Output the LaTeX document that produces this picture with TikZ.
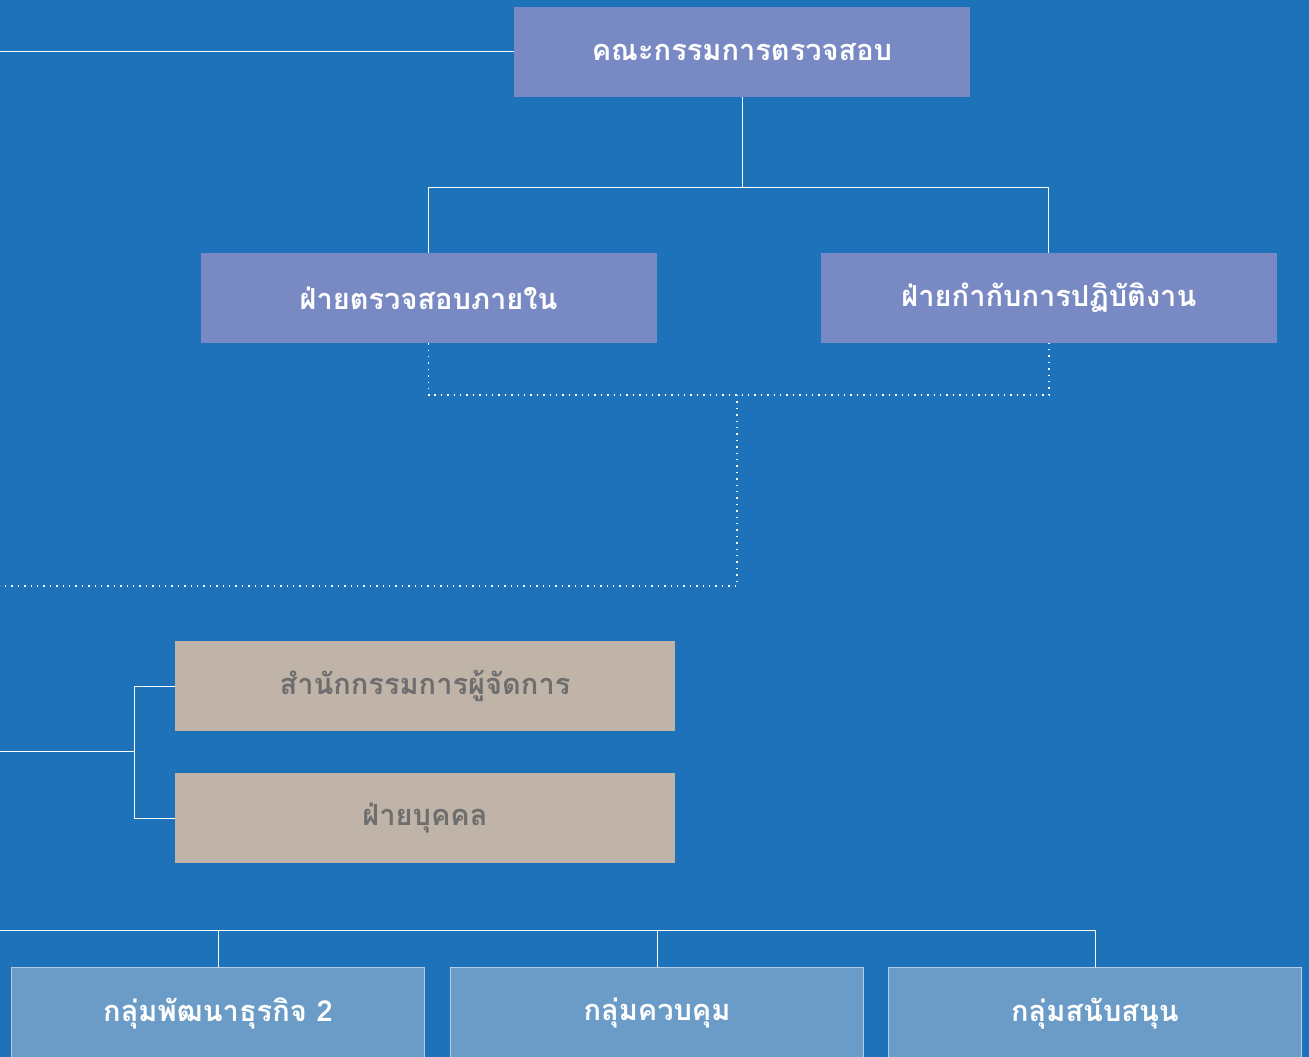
\documentclass[tikz,border=0pt]{standalone}
\usepackage{fontspec}
\newfontfamily\thaifont[Script=Thai]{Loma}
\usetikzlibrary{positioning}
\definecolor{bgblue}{HTML}{1E72B9}
\definecolor{unitfill}{HTML}{7889C4}
\definecolor{officefill}{HTML}{C0B4A8}
\definecolor{officetext}{HTML}{6E6E6E}
\definecolor{groupfill}{HTML}{6A9CC7}
\definecolor{groupline}{HTML}{B4CCE4}
\tikzset{
  unit/.style={
    rectangle,
    fill=unitfill,
    text=white,
    minimum width=456pt,
    minimum height=90pt,
    inner sep=0pt,
    font=\thaifont\bfseries\fontsize{29}{34}\selectfont,
    text centered},
  office/.style={
    unit,
    fill=officefill,
    text=officetext,
    minimum width=500pt},
  group/.style={
    unit,
    fill=groupfill,
    draw=groupline, line width=1pt,
    minimum width=413pt,
    minimum height=92pt},
  link/.style={draw=white, line width=1pt},
  duty/.style={draw=white, line width=1.4pt, dash pattern=on 1.4pt off 5pt},
}
\begin{document}
\begin{tikzpicture}[x=1pt, y=-1pt]
      \clip (0,0) rectangle (1309,1057);
      \fill[bgblue] (0,0) rectangle (1309,1057);

      \node[unit] (audit) at (742,52) {คณะกรรมการตรวจสอบ};
      \node[unit] (internal) at (428.5,298) {ฝ่ายตรวจสอบภายใน};
      \node[unit, right=164pt of internal] (compliance) {ฝ่ายกำกับการปฏิบัติงาน};
      \node[office] (mdoffice) at (425,686) {สำนักกรรมการผู้จัดการ};
      \node[office, below=42pt of mdoffice] (personnel) {ฝ่ายบุคคล};
      \node[group, anchor=north] (bizdev) at (218,967) {กลุ่มพัฒนาธุรกิจ 2};
      \node[group, right=25pt of bizdev] (control) {กลุ่มควบคุม};
      \node[group, right=24pt of control] (support) {กลุ่มสนับสนุน};

      \coordinate (AuditEdge) at (0,52);
      \coordinate (AuditSplit) at (742,187);
      \coordinate (DutyJoin) at (737,395);
      \coordinate (DutyCorner) at (737,586);
      \coordinate (DutyEdge) at (0,586);
      \coordinate (OfficeEdge) at (0,751);
      \coordinate (OfficeBus) at (134,751);
      \coordinate (GroupEdge) at (0,930);

      \path[link] (audit.west) -- (AuditEdge);
      \path[link] (audit.south) -- (AuditSplit);
      \path[link] (AuditSplit) -| (internal.north);
      \path[link] (AuditSplit) -| (compliance.north);
      \path[duty] (internal.south) |- (DutyJoin) -| (compliance.south);
      \path[duty] (DutyJoin) -- (DutyCorner) -- (DutyEdge);
      \path[link] (OfficeEdge) -- (OfficeBus);
      \path[link] (OfficeBus) |- (mdoffice.west);
      \path[link] (OfficeBus) |- (personnel.west);
      \path[link] (GroupEdge) -| (support.north);
      \path[link] (bizdev.north) -- (bizdev.north |- GroupEdge);
      \path[link] (control.north) -- (control.north |- GroupEdge);
\end{tikzpicture}
\end{document}
